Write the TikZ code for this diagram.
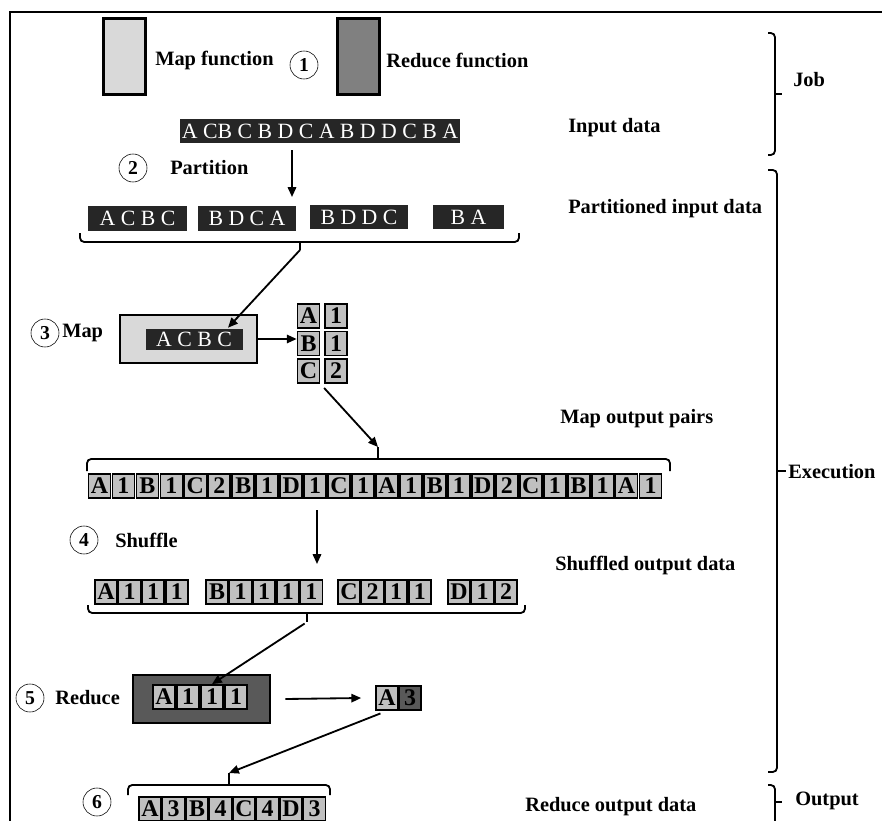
\documentclass[tikz,border=0pt]{standalone}
\usepackage{fontspec}
\setmainfont{Liberation Serif}
\usetikzlibrary{arrows.meta,positioning}

\definecolor{mapgray}{HTML}{D9D9D9}
\definecolor{redgray}{HTML}{808080}
\definecolor{barblack}{HTML}{262626}
\definecolor{cellgray}{HTML}{C0C0C0}
\definecolor{reddark}{HTML}{595959}

\tikzset{
  fnbox/.style={draw, line width=2pt, minimum width=1.05cm, minimum height=1.9cm, inner sep=0pt},
  lbl/.style={font=\bfseries\fontsize{14.5}{16}\selectfont, anchor=west, inner sep=0pt},
  stepnum/.style={draw, circle, thin, minimum size=0.7cm, inner sep=0pt, font=\bfseries\fontsize{14}{16}\selectfont},
  databar/.style={fill=barblack, text=white, inner sep=0pt, minimum height=0.6cm, font=\fontsize{15.5}{17}\selectfont},
  cell/.style={draw, line width=1.2pt, fill=cellgray, minimum width=0.55cm, minimum height=0.6cm, inner sep=0pt, font=\bfseries\fontsize{17}{18}\selectfont},
  darkcell/.style={cell, fill=reddark},
  arr/.style={-{Triangle[length=7pt,width=6pt]}, line width=1.3pt},
  brk/.style={line width=1.3pt, rounded corners=3pt},
  tick/.style={line width=1.3pt}
}

\begin{document}
\begin{tikzpicture}[x=0.025cm, y=-0.025cm]
    \useasboundingbox (0,0) rectangle (882,821);
    % frame
    \draw[line width=2pt] (10,821) -- (10,12) -- (882,12);

    % 1: job
    \node[fnbox, fill=mapgray] (mapfn) at (124.5,56.5) {};
    \node[lbl] (mapfnl) at (155,60) {Map function};
    \node[stepnum] (s1) at (304,65) {1};
    \node[fnbox, fill=redgray] (redfn) at (358.5,56.5) {};
    \node[lbl] (redfnl) at (386,60) {Reduce function};
    \node[databar, minimum width=7cm] (inbar) at (320,131) {A CB C B D C A B D D C B A};
    \node[lbl] (inl) at (568,128) {Input data};

    % 2: partition
    \node[stepnum] (s2) at (133,168) {2};
    \node[lbl] (partl) at (170,168) {Partition};
    \coordinate (inbot) at (292,150);
    \coordinate (partop) at (292,197);
    \draw[arr] (inbot) -- (partop);
    \node[databar, minimum width=2.475cm] (pa) at (137.5,218.5) {A C B C};
    \node[databar, minimum width=2.45cm] (pb) at (247,218.5) {B D C A};
    \node[databar, minimum width=2.45cm] (pc) at (359,217) {B D D C};
    \node[databar, minimum width=1.775cm] (pd) at (468.5,217) {B A};
    \node[lbl] (partdl) at (568,209) {Partitioned input data};
    \draw[brk] (80,233) -- (80,242) -- (519,242) -- (519,233);
    \coordinate (partTip) at (300,250);
    \draw[tick] (300,242) -- (partTip);

    % 3: map
    \node[stepnum] (s3) at (45,333) {3};
    \node[lbl, anchor=west] (mapl) at (62,333) {Map};
    \node[draw, line width=2pt, fill=mapgray, minimum width=3.425cm, minimum height=1.2cm] (mapbox) at (188.5,339) {};
    \node[databar, draw=mapgray, minimum width=2.45cm, minimum height=0.55cm] (mapin) at (194,339) {A C B C};
    \draw[arr] (partTip) -- ([xshift=0.85cm]mapin.north);
    \foreach \k/\v [count=\r from 0] in {A/1,B/1,C/2} {
        \node[cell] (pk\k) at (308.5,316+\r*27.5) {\k};
        \node[cell] (pv\k) at (336,316+\r*27.5) {\v};
    }
    \draw[arr] (mapbox.east) -- (mapbox.east -| pkB.west);
    \node[lbl] (mopl) at (560,419) {Map output pairs};

    % map output list
    \draw[brk] (87,471) -- (87,459) -- (670,459) -- (670,471);
    \coordinate (moTip) at (378,447);
    \draw[tick] (378,459) -- (moTip);
    \draw[arr, shorten <=4pt] (pkC.south east) -- (moTip);
    \foreach \t [count=\i from 0] in {A,1,B,1,C,2,B,1,D,1,C,1,A,1,B,1,D,2,C,1,B,1,A,1}
        \node[cell] (mo\i) at (99.5+\i*23.96,486) {\t};

    % 4: shuffle
    \node[stepnum] (s4) at (84,540) {4};
    \node[lbl] (shl) at (115,540) {Shuffle};
    \coordinate (moBot) at (317,510);
    \coordinate (shTop) at (317,564);
    \draw[arr] (moBot) -- (shTop);
    \node[lbl] (shdl) at (555,565) {Shuffled output data};
    \foreach \gx/\gl [count=\g] in {106/{A,1,1,1},217/{B,1,1,1,1},349/{C,2,1,1},459/{D,1,2}}
        \foreach \t [count=\i from 0] in \gl
            \node[cell] (sh\g-\i) at (\gx+\i*23.6,592) {\t};
    \draw[brk] (88,605) -- (88,613) -- (525,613) -- (525,605);
    \coordinate (shTip) at (307,622);
    \draw[tick] (307,613) -- (shTip);

    % 5: reduce
    \node[stepnum] (s5) at (30,698) {5};
    \node[lbl] (redl) at (55,698) {Reduce};
    \node[draw, line width=2pt, fill=reddark, minimum width=3.425cm, minimum height=1.2cm] (redbox) at (201.5,699) {};
    \foreach \t [count=\i from 0] in {A,1,1,1}
        \node[cell] (rc\i) at (164+\i*24,697) {\t};
    \draw[arr, shorten <=2pt] (shTip) -- (rc2.north);
    \node[cell] (resA) at (387,698) {A};
    \node[darkcell] (res3) at (410,698) {3};
    \draw[arr] ([xshift=0.35cm]redbox.east) -- ([xshift=-0.35cm]resA.west);

    % 6: output
    \node[stepnum] (s6) at (97,802) {6};
    \draw[brk] (128,795) -- (128,785) -- (330,785) -- (330,795);
    \coordinate (outTip) at (229,773);
    \draw[tick] (229,785) -- (outTip);
    \draw[arr, shorten <=5pt] (resA.south) -- (outTip);
    \foreach \t [count=\i from 0] in {A,3,B,4,C,4,D,3}
        \node[cell] (oc\i) at (150+\i*23.5,809) {\t};
    \node[lbl] (outdl) at (525,807) {Reduce output data};

    % phases
    \draw[brk] (768,33) -- (775,33) -- (775,155) -- (768,155);
    \draw[tick] (775,94) -- (782,94);
    \node[lbl] (jobl) at (793,80) {Job};
    \draw[brk] (768,170) -- (777,170) -- (777,772) -- (768,772);
    \draw[tick] (777,471) -- (786,471);
    \node[lbl] (exel) at (788,472) {Execution};
    \draw[brk] (768,785) -- (775,785) -- (775,821);
    \draw[tick] (775,802) -- (782,802);
    \node[lbl] (outl) at (795,801) {Output};
\end{tikzpicture}
\end{document}
